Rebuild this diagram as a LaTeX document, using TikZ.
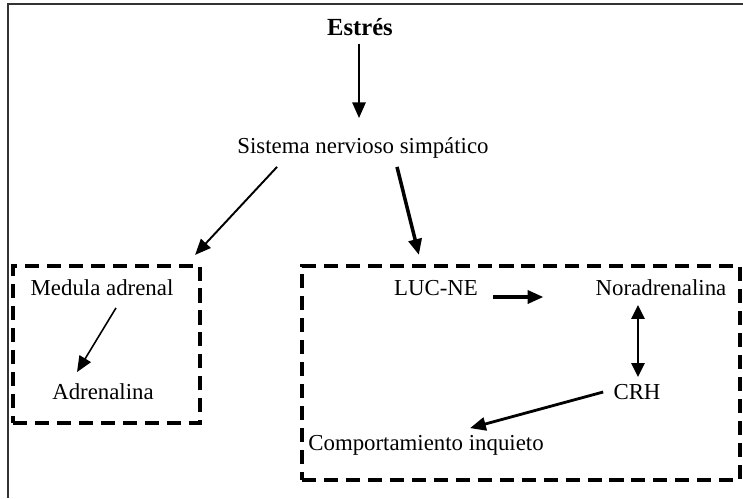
\documentclass[tikz,border=0pt]{standalone}
\usepackage{fontspec}
\setmainfont{Liberation Serif}
\usetikzlibrary{arrows.meta,calc,fit}
\tikzset{
	texto/.style={inner sep=0pt, text height=9pt, text depth=3pt, font=\fontsize{13}{15}\selectfont},
	flecha/.style={-{Triangle[length=9pt,width=7.5pt]}, line width=1.1pt},
	flechas/.style={{Triangle[length=8pt,width=7.5pt]}-{Triangle[length=8pt,width=7.5pt]}, line width=1.4pt},
	caja/.style={draw, line width=2.4pt, dash pattern=on 8pt off 4.5pt, inner sep=0pt},
}
\begin{document}
\begin{tikzpicture}[x=0.02cm, y=-0.02cm]
	\useasboundingbox (0,0) rectangle (743,498);
	\draw[line width=0.6pt, black!80] (8,498) -- (8,4) -- (743,4);

% textos
	\node[texto, font=\fontsize{14}{16}\selectfont\bfseries] (estres) at (360,30) {Estrés};
	\node[texto] (sns) at (363,148) {Sistema nervioso simpático};
	\node[texto] (medula) at (102,290) {Medula adrenal};
	\node[texto] (adren) at (103,394) {Adrenalina};
	\node[texto] (lucne) at (436,290) {LUC-NE};
	\node[texto] (noradr) at (661,290) {Noradrenalina};
	\node[texto] (crh) at (637,394) {CRH};
	\node[texto, anchor=west] (comport) at (308,445) {Comportamiento inquieto};

% cajas punteadas
	\node[caja, fit={(13,266) (200,423)}] (cajaizq) {};
	\node[caja, fit={(302,266) (740,480)}] (cajader) {};

% flechas
	\draw[flecha, line width=1.4pt, shorten <=1.5pt] ($(estres.south)+(-1,0)$) -- ($(sns.north)+(-4,-19)$);
	\draw[flecha] ($(sns.south west)+(40,8)$) -- ($(cajaizq.north east)+(-7,-9)$);
	\draw[flecha, line width=2pt] ($(sns.south)+(34,8)$) -- ($(cajader.north west)+(119,-9)$);
	\draw[flecha, line width=0.9pt] ($(medula.south)+(14,7)$) -- ($(adren.north)+(-26,-11)$);
	\draw[flecha, line width=1.8pt] ($(lucne.east)+(15,7)$) -- ($(noradr.west)+(-52,7)$);
	\draw[flechas] ($(noradr.south)+(-23,4)$) -- ($(crh.north)+(1,-6)$);
	\draw[flecha, line width=1.6pt] ($(crh.west)+(-10,-2)$) -- ($(comport.north)+(44,-6)$);
\end{tikzpicture}
\end{document}
